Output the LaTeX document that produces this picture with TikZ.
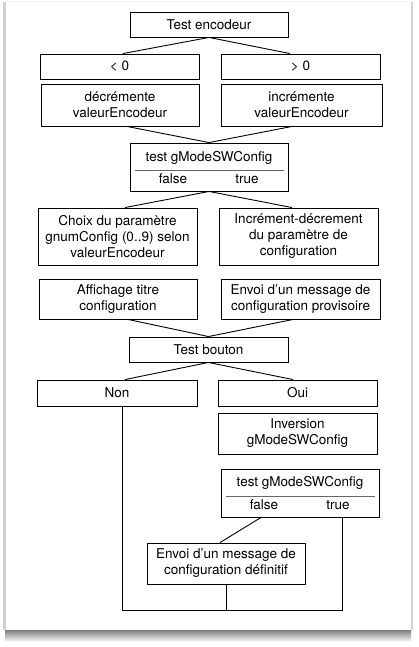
\documentclass[tikz,border=0pt]{standalone}
\usepackage{fontspec}
\setmainfont{TeX Gyre Heros}
\usetikzlibrary{calc}
\begin{document}
\begin{tikzpicture}[x=1pt,y=-1pt,
  box/.style={draw, line width=0.9pt, inner sep=0pt, align=center, font=\fontsize{13.5}{16}\selectfont},
  lbl/.style={inner sep=0pt, font=\fontsize{13.5}{16}\selectfont},
  conn/.style={line width=0.9pt},
  sep/.style={line width=0.9pt, black!60}]
\useasboundingbox (0,0) rectangle (418,647);
% frame
\fill[white] (0,0) rectangle (418,647);
\shade[top color=black!55, bottom color=white] (5,629) rectangle (411,642);
\fill[black!18] (3,2) rectangle (5.5,630);
\fill[black!18] (410.5,2) rectangle (413,630);
\fill[black!5] (5,1) rectangle (411,2.5);
\fill[white] (5.5,2.5) rectangle (410.5,629.5);
% nodes
\node[box, minimum width=158, minimum height=25] (te) at (209,24.5) {Test encodeur};
\node[box, minimum width=159, minimum height=25] (lt) at (119.5,66.5) {< 0};
\node[box, minimum width=159, minimum height=25] (gt) at (300.5,66.5) {> 0};
\node[box, minimum width=158, minimum height=42] (dec) at (120,105) {décrémente\\valeurEncodeur};
\node[box, minimum width=161, minimum height=42] (inc) at (301.5,105) {incrémente\\valeurEncodeur};
\node[box, minimum width=158, minimum height=48] (t1) at (209,167) {};
\node[lbl] (t1title) at ($(t1)+(0,-9)$) {test gModeSWConfig};
\node[lbl] (t1false) at ($(t1)+(-36,12)$) {false};
\node[lbl] (t1true) at ($(t1)+(38,12)$) {true};
\draw[sep] ($(t1.west)+(5,3)$) -- ($(t1.east)+(-4,3)$);
\node[box, minimum width=159, minimum height=57] (choix) at (117.5,236.5) {Choix du paramètre\\gnumConfig (0..9) selon\\valeurEncodeur};
\node[box, minimum width=159, minimum height=57] (incr) at (298.5,236.5) {Incrément-décrement\\du paramètre de\\configuration};
\node[box, minimum width=158, minimum height=40] (aff) at (118,299) {Affichage titre\\configuration};
\node[box, minimum width=159, minimum height=40] (env) at (300.5,299) {Envoi d’un message de\\configuration provisoire};
\node[box, minimum width=159, minimum height=25] (tb) at (208.5,349.5) {Test bouton};
\node[box, minimum width=160, minimum height=26] (non) at (117,393) {Non};
\node[box, minimum width=159, minimum height=26] (oui) at (297.5,393) {Oui};
\node[box, minimum width=159, minimum height=41] (inv) at (297.5,433.5) {Inversion\\gModeSWConfig};
\node[box, minimum width=158, minimum height=48] (t2) at (300,493) {};
\node[lbl] (t2title) at ($(t2)+(0,-10)$) {test gModeSWConfig};
\node[lbl] (t2false) at ($(t2)+(-36,12)$) {false};
\node[lbl] (t2true) at ($(t2)+(38,12)$) {true};
\draw[sep] ($(t2.west)+(5,3)$) -- ($(t2.east)+(-4,3)$);
\node[box, minimum width=158, minimum height=41] (def) at (226,563.5) {Envoi d’un message de\\configuration définitif};
% connectors
\draw[conn] (te.south) -- ($(lt.north)+(3.5,0)$);
\draw[conn] (te.south) -- ($(gt.north)+(-10.5,0)$);
\draw[conn] ($(dec.south)+(7,0)$) -- (t1.north);
\draw[conn] ($(inc.south)+(-9.5,0)$) -- (t1.north);
\draw[conn] (t1.south) -- ($(choix.north)+(7.5,0)$);
\draw[conn] (t1.south) -- ($(incr.north)+(-6.5,0)$);
\draw[conn] ($(aff.south)+(10,0)$) -- (tb.north);
\draw[conn] ($(env.south)+(-7.5,0)$) -- (tb.north);
\draw[conn] (tb.south) -- ($(non.north)+(8,0)$);
\draw[conn] (tb.south) -- ($(oui.north)+(-4.5,0)$);
\draw[conn] ($(t2.south)+(-39,0)$) -- ($(def.north)+(-6,0)$);
\coordinate (bl) at (122,610);
\coordinate (br) at (342,610);
\draw[conn] (non.south -| bl) -- (bl) -- (br) -- (t2.south -| br);
\draw[conn] (def.south) -- (def.south |- bl);
\end{tikzpicture}
\end{document}
